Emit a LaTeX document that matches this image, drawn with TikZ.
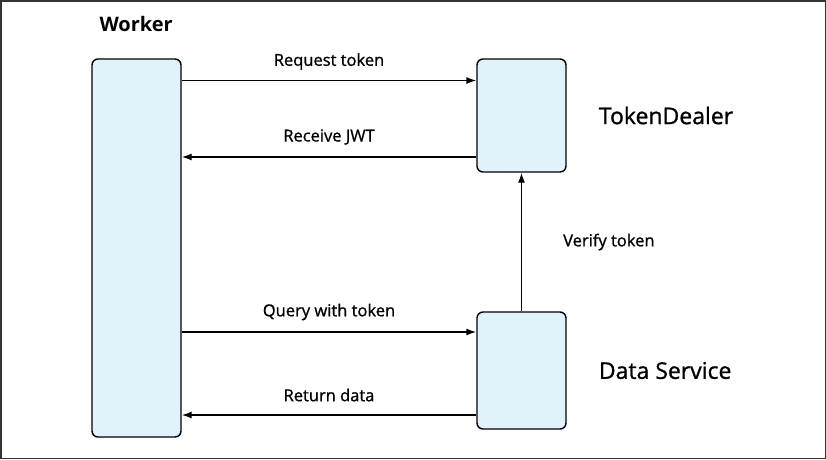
\documentclass[tikz,border=0pt]{standalone}
\usepackage{fontspec}
\setmainfont{Open Sans}
\newfontfamily\semibold[FakeBold=1]{Open Sans}
\usetikzlibrary{positioning,arrows.meta}

\begin{document}
\begin{tikzpicture}
    [
        x=1pt, y=-1pt,
        box/.style={
                rectangle,
                rounded corners=6pt,
                draw=black,
                line width=1.4pt,
                fill=#1,
                inner sep=0pt,
                minimum width=89pt,
            },
        flow/.style={
                line width=1.4pt,
                -{Latex[length=10pt,width=7pt]},
            },
        msg/.style={
                font=\semibold\fontsize{16.5}{19}\selectfont,
                inner sep=0pt,
            },
        title/.style={
                font=\semibold\fontsize{23}{27}\selectfont,
                inner sep=0pt,
            },
    ]
    \useasboundingbox (0,0) rectangle (826,459);
    \definecolor{paleblue}{HTML}{E1F2FB}
    \definecolor{framegray}{HTML}{333333}

    % outer frame
    \draw [line width=1.5pt, draw=framegray] (0.75,0.75) rectangle (825.25,458.25);

    % participants
    \node [box=paleblue, minimum height=378pt] (worker) at (136.5,248) {};
    \node [box=paleblue, minimum height=113pt] (dealer) at (521.5,115.5) {};
    \node [box=paleblue, minimum height=117pt] (data) at (521.5,370.5) {};

    \node [font=\fontsize{20}{24}\selectfont\bfseries, inner sep=0pt, anchor=base west]
        (workername) at ([xshift=8pt, yshift=27pt]worker.north west) {Worker};
    \node [title, anchor=west, right=32pt of dealer] (dealername) {TokenDealer};
    \node [title, anchor=west, right=32pt of data] (dataname) {Data Service};

    % points where the messages meet the boxes
    \coordinate (req) at ([yshift=35pt]dealer.west);
    \coordinate (jwt) at ([yshift=-41.5pt]dealer.west);
    \coordinate (qry) at ([yshift=38.5pt]data.west);
    \coordinate (ret) at ([yshift=-44.5pt]data.west);

    % messages
    \draw [flow] (worker.east |- req) -- node[msg, midway, yshift=19pt] (lreq) {Request token} (req);
    \draw [flow] (jwt) -- node[msg, midway, yshift=20pt] (ljwt) {Receive JWT} (worker.east |- jwt);
    \draw [flow] (worker.east |- qry) -- node[msg, midway, yshift=20pt] (lqry) {Query with token} (qry);
    \draw [flow] (ret) -- node[msg, midway, yshift=20pt] (lret) {Return data} (worker.east |- ret);
    \draw [flow] (data.north) -- node[msg, midway, anchor=west, xshift=41pt] (lver) {Verify token} (dealer.south);
\end{tikzpicture}
\end{document}
